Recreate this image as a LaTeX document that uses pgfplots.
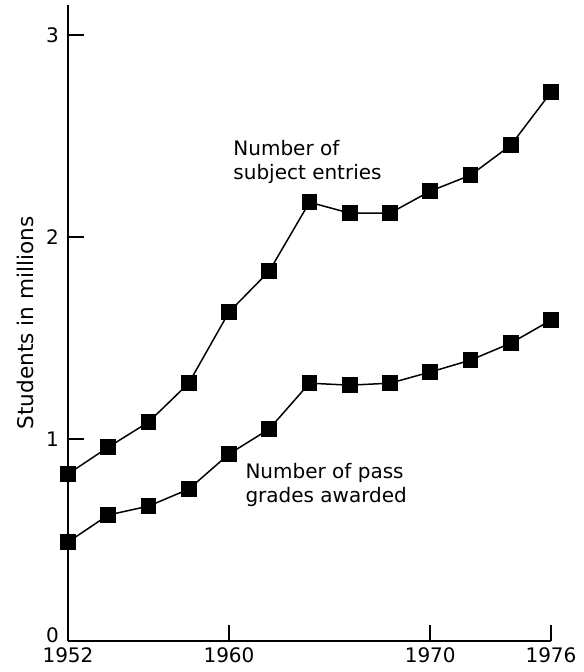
\documentclass[border=0pt]{standalone}
\usepackage{fontspec}
\setmainfont{DejaVu Sans}
\usepackage{pgfplots}
\pgfplotsset{compat=1.18}

% values (millions)
\pgfplotstableread{
year entries
1952 0.827
1954 0.960
1956 1.084
1958 1.277
1960 1.629
1962 1.832
1964 2.173
1966 2.119
1968 2.119
1970 2.228
1972 2.307
1974 2.455
1976 2.718
}\entries
\pgfplotstableread{
year passes
1952 0.490
1954 0.624
1956 0.668
1958 0.752
1960 0.926
1962 1.050
1964 1.277
1966 1.267
1968 1.277
1970 1.332
1972 1.391
1974 1.475
1976 1.589
}\passes

\begin{document}
\begin{tikzpicture}
\begin{axis}[
  scale only axis,
  width=241.5pt, height=318pt,
  xmin=1952, xmax=1976, ymin=0, ymax=3.15,
  axis lines=left,
  axis line style={-, line width=0.9pt},
  xtick={1952,1960,1970,1976},
  ytick={1,2,3},
  extra y ticks={0},
  extra y tick style={yticklabel style={yshift=3pt}},
  xticklabel style={/pgf/number format/1000 sep={}},
  yticklabel style={xshift=-1pt},
  /pgf/number format/assume math mode=true,
  tick align=inside,
  major tick length=8pt,
  tick style={black, line width=0.8pt},
  ticklabel style={font=\fontsize{10}{12}\selectfont},
  ylabel={Students in millions},
  ylabel style={font=\fontsize{10.8}{13}\selectfont,
    at={(axis description cs:-0.089,0.5)}, anchor=center},
  clip=false,
]
  \addplot[black, line width=0.75pt, mark=square*, mark size=3.6pt,
    mark options={solid}] table[x=year, y=entries] {\entries};
  \addplot[black, line width=0.75pt, mark=square*, mark size=3.6pt,
    mark options={solid}] table[x=year, y=passes] {\passes};
  \node[anchor=north west, inner sep=0pt, align=left,
    font=\fontsize{10}{12}\selectfont] at (axis cs:1960.2,2.48)
    {Number of\\subject entries};
  \node[anchor=north west, inner sep=0pt, align=left,
    font=\fontsize{10}{12}\selectfont] at (axis cs:1960.8,0.88)
    {Number of pass\\grades awarded};
  \coordinate (ll) at (rel axis cs:0,0);
  \coordinate (ur) at (rel axis cs:1,1);
\end{axis}
\pgfresetboundingbox
\useasboundingbox ([shift={(-34pt,-15.5pt)}]ll) rectangle ([shift={(16pt,2.5pt)}]ur);
\end{tikzpicture}
\end{document}
